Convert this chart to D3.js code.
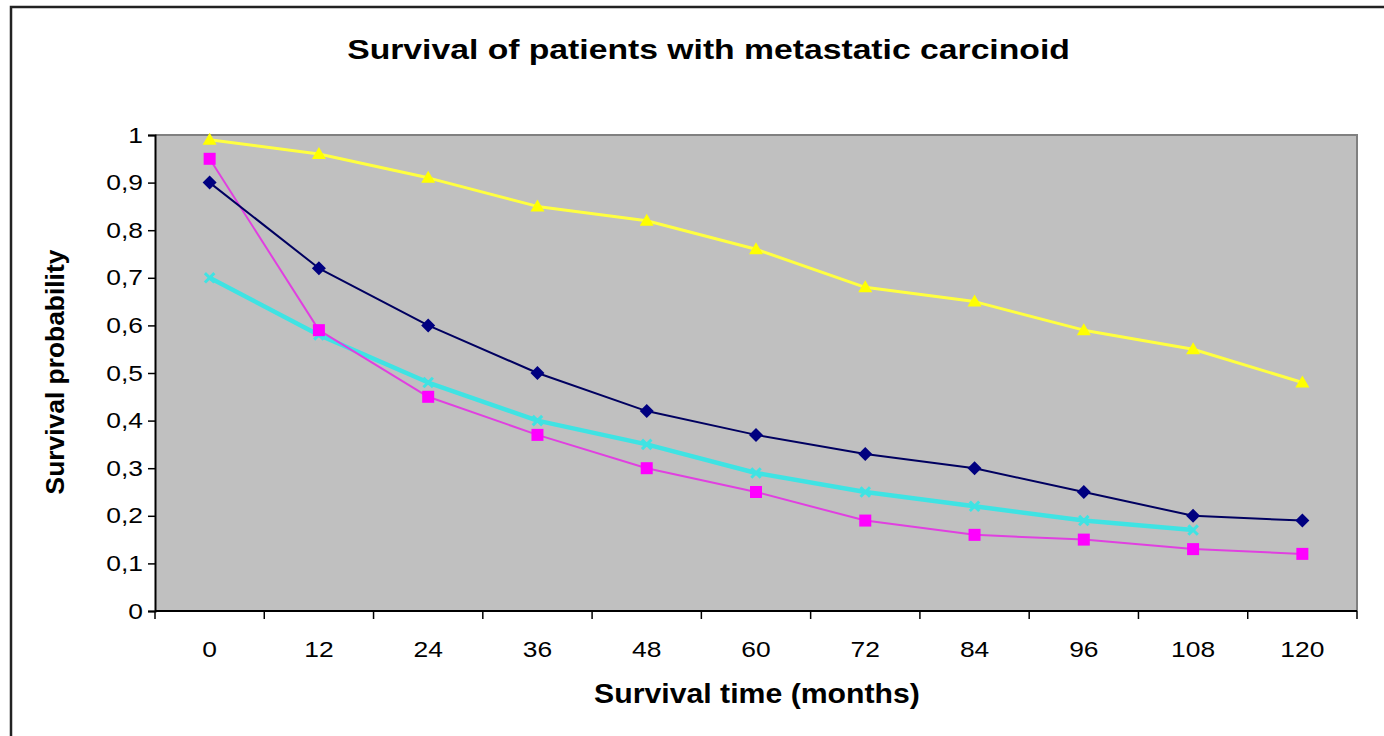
<!DOCTYPE html>
<html>
<head>
<meta charset="utf-8">
<script src="https://cdn.jsdelivr.net/npm/d3@7"></script>
<style>
  html, body { margin: 0; padding: 0; background: #fff; }
  svg { display: block; }
  text { font-family: "Liberation Sans", Arial, sans-serif; fill: #000; }
</style>
</head>
<body>
<svg id="chart" width="1384" height="736"></svg>
<script>
const months = ["0","12","24","36","48","60","72","84","96","108","120"];
const yTicks = [0,0.1,0.2,0.3,0.4,0.5,0.6,0.7,0.8,0.9,1];
const seriesNavy    = [0.90,0.72,0.60,0.50,0.42,0.37,0.33,0.30,0.25,0.20,0.19];
const seriesMagenta = [0.95,0.59,0.45,0.37,0.30,0.25,0.19,0.16,0.15,0.13,0.12];
const seriesYellow  = [0.99,0.96,0.91,0.85,0.82,0.76,0.68,0.65,0.59,0.55,0.48];
const seriesCyan    = [0.70,0.58,0.48,0.40,0.35,0.29,0.25,0.22,0.19,0.17,null];
const titleText = "Survival of patients with metastatic carcinoid";
const xTitle = "Survival time (months)";
const yTitle = "Survival probability";

const svg = d3.select("#chart");
const L = 155, R = 1357, T = 135, B = 611;
const SX = 1.2; // horizontal stretch of the original rendering

// outer frame
svg.append("path").attr("d", "M11,736 L11,7 L1384,7")
  .attr("fill","none").attr("stroke","#222").attr("stroke-width",2.5);

const x = d3.scaleBand().domain(months).range([L, R]).padding(0);
const y = d3.scaleLinear().domain([0, 1]).range([B, T]);
const cx = d => x(d) + x.bandwidth() / 2;

// plot area
svg.append("rect").attr("x", L).attr("y", T).attr("width", R - L).attr("height", B - T)
  .attr("fill", "#c0c0c0");
svg.append("path").attr("d", `M${L},${T} L${R},${T} L${R},${B}`)
  .attr("fill","none").attr("stroke","#808080").attr("stroke-width",2);

// Y axis
const yAxis = d3.axisLeft(y).tickValues(yTicks).tickSize(7).tickPadding(7)
  .tickFormat(d => String(+d.toFixed(1)).replace(".", ","));
const gy = svg.append("g").attr("transform", `translate(${L},0)`).call(yAxis);
gy.select(".domain").attr("stroke", "#000").attr("stroke-width", 2);
gy.selectAll(".tick line").attr("stroke", "#000").attr("stroke-width", 1.5);
gy.selectAll(".tick text").attr("font-size", 22).attr("fill", "#222")
  .attr("x", -12 / SX).attr("transform", `scale(${SX},1)`)
  .style("font-family", '"Liberation Sans", Arial, sans-serif');

// X axis (labels centered, ticks at band boundaries)
const xAxis = d3.axisBottom(x).tickSize(0);
const gx = svg.append("g").attr("transform", `translate(0,${B})`).call(xAxis);
gx.select(".domain").remove();
gx.selectAll(".tick text").attr("font-size", 22).attr("fill", "#222")
  .attr("y", 46).attr("dy", 0).attr("transform", `scale(${SX},1)`)
  .style("font-family", '"Liberation Sans", Arial, sans-serif');
svg.append("line").attr("x1", L).attr("x2", R).attr("y1", B).attr("y2", B)
  .attr("stroke", "#000").attr("stroke-width", 2);
const bounds = months.map(m => x(m)).concat([R]);
svg.append("g").selectAll("line").data(bounds).join("line")
  .attr("x1", d => d).attr("x2", d => d).attr("y1", B).attr("y2", B + 8)
  .attr("stroke", "#000").attr("stroke-width", 1.5);

// fitted titles
function fitted(txt, cxp, cyp, width, size, rotate) {
  const g = svg.append("g").attr("transform", `translate(${cxp},${cyp})` + (rotate ? " rotate(-90)" : ""));
  const t = g.append("text").attr("x", 0).attr("y", 0).attr("text-anchor", "middle")
    .attr("font-size", size).attr("font-weight", "bold").text(txt);
  const w = t.node().getComputedTextLength();
  t.attr("transform", `scale(${width / w},1)`);
  return t;
}
fitted(titleText, 708.5, 59, 723, 28);
fitted(xTitle, 757, 703, 326, 27);
fitted(yTitle, 64, 372, 245, 25, true);

// series
const series = [
  { vals: seriesCyan, color: "#3fe3e3", width: 4.5, marker: "x" },
  { vals: seriesYellow, color: "#ffff40", width: 3, marker: "triangle", mcolor: "#ffff00" },
  { vals: seriesMagenta, color: "#e040e0", width: 2, marker: "square", mcolor: "#ff00ff" },
  { vals: seriesNavy, color: "#000060", width: 2, marker: "diamond", mcolor: "#000080" }
];
const line = d3.line().defined(d => d.v != null).x(d => cx(d.m)).y(d => y(d.v));

series.forEach(s => {
  const pts = months.map((m, i) => ({ m, v: s.vals[i] }));
  svg.append("path").datum(pts).attr("d", line)
    .attr("fill", "none").attr("stroke", s.color).attr("stroke-width", s.width)
    .attr("stroke-linejoin", "round");
  const valid = pts.filter(d => d.v != null);
  const g = svg.append("g");
  if (s.marker === "diamond") {
    g.selectAll("path").data(valid).join("path")
      .attr("d", "M0,-7 L7,0 L0,7 L-7,0 Z")
      .attr("transform", d => `translate(${cx(d.m)},${y(d.v)})`)
      .attr("fill", s.mcolor);
  } else if (s.marker === "square") {
    g.selectAll("rect").data(valid).join("rect")
      .attr("x", d => cx(d.m) - 6).attr("y", d => y(d.v) - 6)
      .attr("width", 12).attr("height", 12).attr("fill", s.mcolor);
  } else if (s.marker === "triangle") {
    g.selectAll("path").data(valid).join("path")
      .attr("d", "M0,-7 L7,5 L-7,5 Z")
      .attr("transform", d => `translate(${cx(d.m)},${y(d.v)})`)
      .attr("fill", s.mcolor);
  } else {
    g.selectAll("path").data(valid).join("path")
      .attr("d", d3.symbol(d3.symbolTimes, 60))
      .attr("transform", d => `translate(${cx(d.m)},${y(d.v)})`)
      .attr("fill", "none").attr("stroke", s.color).attr("stroke-width", 3);
  }
});
</script>
</body>
</html>
